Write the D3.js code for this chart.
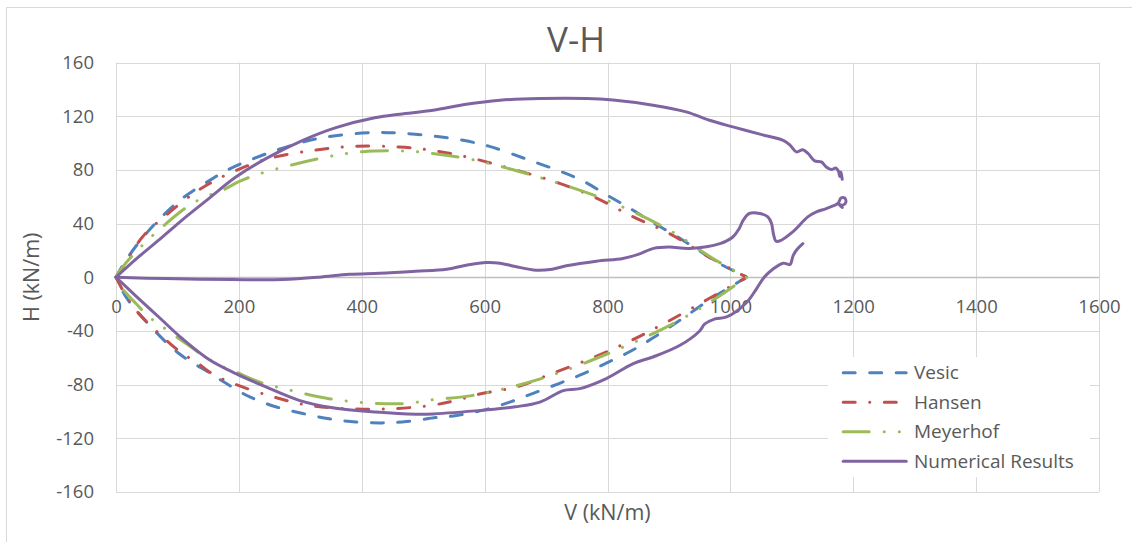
<!DOCTYPE html>
<html>
<head>
<meta charset="utf-8">
<script src="https://cdn.jsdelivr.net/npm/d3@7"></script>
<style>
  html, body { margin: 0; padding: 0; background: #ffffff; }
  svg text { font-family: "Open Sans", "Liberation Sans", sans-serif; fill: #595959; }
</style>
</head>
<body>
<svg id="chart" width="1132" height="542"></svg>
<script>
// ---- axis ticks ----
const xTicks = [0, 200, 400, 600, 800, 1000, 1200, 1400, 1600];
const yTicks = [-160, -120, -80, -40, 0, 40, 80, 120, 160];

// ---- Vesic envelope [V, H] ----
const vesicUpper = [[0,0],[16,12.5],[49,32.5],[103,57],[152,72],[184,80.5],[260,94.5],[336,104],[418,107.8],[457,107.5],[511,105.5],[565,102],[608,97.5],[668,88],[717,80],[759,72],[798,61.5],[836,51.5],[871,41.5],[909,31.5],[947,20.5],[983,10],[1018,2],[1026,0]];
const vesicLower = [[0,0],[16,-14.5],[52,-34.5],[103,-57],[155,-72],[179,-79],[217,-89],[260,-96.5],[304,-101.5],[347,-105.5],[390,-107.8],[434,-108.5],[473,-107.5],[522,-104.5],[554,-103],[598,-99],[641,-93],[679,-86.5],[722,-79],[760,-72],[798,-64],[836,-55.5],[873,-45.5],[918,-32],[972,-15],[1018,-2.3],[1026,0]];

// ---- Hansen envelope ----
const hansenUpper = [[0,0],[13.5,9],[43,30],[81,46],[125,62],[157,71],[190,78.5],[249,88.5],[320,94.5],[385,97.5],[461,97],[522,94],[581,88.5],[646,80.5],[722,70],[777,60],[842,45],[901,32.5],[958,17],[1018,2],[1026,0]];
const hansenLower = [[0,0],[11,-9.7],[32.5,-24.5],[76,-44.5],[108.5,-57],[130,-63],[157,-72],[190,-79],[255,-89],[314,-95.5],[380,-98],[450,-98],[519,-95],[554,-91.7],[592,-87],[652,-81.7],[711,-71.5],[779,-59.4],[839,-47],[896,-33.5],[961,-17],[1018,-2.2],[1026,0]];

// ---- Meyerhof envelope ----
const meyerhofUpper = [[0,0],[11,7.7],[49,26.5],[119,53.5],[146,60],[174,65],[199,71],[233,77],[342,89.5],[401,93.5],[470,94],[511,92.5],[581,87.5],[692,74],[798,57.5],[901,35],[975,13],[1018,2.1],[1026,0]];
const meyerhofLower = [[0,0],[8,-7.2],[32.5,-19.6],[54,-29.6],[76,-37],[114,-49.4],[141,-58],[168,-65.5],[195,-70.5],[233,-78],[282,-84],[347,-90.5],[423,-94],[472,-94],[520,-91],[581,-88],[692,-75.5],[800,-57],[907,-34.5],[972,-17],[1018,-2.6],[1026,0]];

// ---- Numerical results (three branches from the origin) ----
const numericalUpper = [[0,0],[32.5,13.5],[70.5,28],[108.5,43],[152,59],[195,74.7],[244,88.4],[304,102],[358,111.5],[423,119],[462,121.5],[516,124.4],[570,128.9],[625,131.9],[690,133.2],[766,133.2],[809,132],[874,128.2],[928,123.2],[966,117],[1004,112],[1048,106.6],[1086,102],[1097,98.4],[1107.5,93.4],[1118,95],[1126.5,92.2],[1137,86.7],[1148,85.9],[1156,82.2],[1164.5,80.2],[1171.5,81.4],[1176,79],[1178,75],[1180,78.5],[1182,73]];
const numericalMiddle = [[0,0],[81,-1],[190,-1.7],[271,-1.7],[330,0],[380,2.2],[429,3],[488,4.5],[538,6],[570,9],[603,11],[625,10.5],[650,8],[684,5.2],[710,6],[733,8.5],[782,12],[825,14],[850,17],[875,21.5],[900,22.5],[934,21.5],[983,25],[1004,30],[1014,36],[1021,42.5],[1031,47.5],[1048,47.5],[1061,45],[1067,40],[1070,32.5],[1074,27],[1080,27],[1102,34],[1126,45],[1140,48.7],[1156,51.2],[1175,55],[1180,59],[1186,59],[1188,56],[1183,53.7],[1177,54.4],[1182,52]];
const numericalLower = [[0,0],[32.5,-14],[70.5,-30],[108.5,-46],[152,-61.5],[195,-71.8],[244,-81.7],[298,-91.7],[352.5,-97.2],[423,-100.4],[488,-102],[516,-101.8],[598,-99],[650,-96.5],[690,-93],[728,-84.5],[755,-83],[798,-75.5],[842,-64.3],[874,-59.4],[918,-50.7],[950,-40],[958,-35],[975,-31],[994,-29.6],[1026,-19],[1042,-9],[1055,0],[1069,6],[1086,10.5],[1097,9.5],[1102,16],[1108,20.5],[1118,25]];

const seriesNames = ["Vesic", "Hansen", "Meyerhof", "Numerical Results"];
const seriesColors = ["#4F81BD", "#C0504D", "#9BBB59", "#8064A2"];
const seriesDashes = ["12 14.5", "12 14.5 0.1 14.5", "26 15 0.1 15 0.1 15", null];

// each theoretical envelope is drawn as one run: upper arc out, lower arc back
const seriesParts = [
  [vesicUpper.concat(vesicLower.slice(0, -1).reverse())],
  [hansenUpper.concat(hansenLower.slice(0, -1).reverse())],
  [meyerhofUpper.concat(meyerhofLower.slice(0, -1).reverse())],
  [numericalUpper, numericalMiddle, numericalLower]
];

// ---- layout ----
const svg = d3.select("#chart");
const plot = { left: 116, right: 1099, top: 62.5, bottom: 492 };

const x = d3.scaleLinear().domain([0, 1600]).range([plot.left, plot.right]);
const y = d3.scaleLinear().domain([-160, 160]).range([plot.bottom, plot.top]);

// chart frame
svg.append("path")
  .attr("d", "M6.5,542V7.5H1132")
  .attr("fill", "none")
  .attr("stroke", "#d9d9d9")
  .attr("stroke-width", 1);

// gridlines
const crisp = v => Math.round(v) + 0.5;
const grid = svg.append("g").attr("stroke", "#d9d9d9").attr("stroke-width", 1);
grid.selectAll("line.v").data(xTicks).join("line")
  .attr("class", "v")
  .attr("x1", d => crisp(x(d))).attr("x2", d => crisp(x(d)))
  .attr("y1", y(160)).attr("y2", y(-160));
grid.selectAll("line.h").data(yTicks).join("line")
  .attr("class", "h")
  .attr("x1", x(0)).attr("x2", x(1600))
  .attr("y1", d => crisp(y(d))).attr("y2", d => crisp(y(d)));

// horizontal axis line at H = 0
svg.append("line")
  .attr("x1", x(0)).attr("x2", x(1600))
  .attr("y1", crisp(y(0))).attr("y2", crisp(y(0)))
  .attr("stroke", "#bfbfbf").attr("stroke-width", 1.3);

// tick labels (plain hyphen for negatives)
const plain = d => String(d);
const xAxis = svg.append("g")
  .attr("transform", `translate(0,${y(0)})`)
  .call(d3.axisBottom(x).tickValues(xTicks).tickSize(0).tickPadding(23).tickFormat(plain));
const yAxis = svg.append("g")
  .attr("transform", `translate(${x(0)},0)`)
  .call(d3.axisLeft(y).tickValues(yTicks).tickSize(0).tickPadding(22).tickFormat(plain));
[xAxis, yAxis].forEach(g => {
  g.select(".domain").remove();
  g.selectAll("text").attr("font-size", 18.5).attr("fill", "#595959")
    .style("font-family", "\"Open Sans\", sans-serif");
});

// series lines
const line = d3.line()
  .x(d => x(d[0]))
  .y(d => y(d[1]))
  .curve(d3.curveCatmullRom.alpha(0.5));

const seriesLayer = svg.append("g");
seriesNames.forEach((name, i) => {
  seriesParts[i].forEach(part => {
    seriesLayer.append("path")
      .attr("d", line(part))
      .attr("fill", "none")
      .attr("stroke", seriesColors[i])
      .attr("stroke-width", 3)
      .attr("stroke-linecap", "round")
      .attr("stroke-linejoin", "round")
      .attr("stroke-dasharray", seriesDashes[i]);
  });
});

// title and axis titles
svg.append("text")
  .attr("x", 576).attr("y", 52)
  .attr("text-anchor", "middle")
  .attr("font-size", 35)
  .text("V-H");
svg.append("text")
  .attr("x", (plot.left + plot.right) / 2).attr("y", 520)
  .attr("text-anchor", "middle")
  .attr("font-size", 21.5)
  .text("V (kN/m)");
svg.append("text")
  .attr("transform", `translate(39,${(plot.top + plot.bottom) / 2}) rotate(-90)`)
  .attr("text-anchor", "middle")
  .attr("font-size", 21.5)
  .text("H (kN/m)");

// legend
const legend = svg.append("g");
legend.append("rect")
  .attr("x", 828).attr("y", 357).attr("width", 262).attr("height", 120)
  .attr("fill", "#ffffff");
const legendY = [372.7, 402.2, 431.7, 461.2];
seriesNames.forEach((name, i) => {
  legend.append("line")
    .attr("x1", 843.2).attr("x2", 906.2)
    .attr("y1", legendY[i]).attr("y2", legendY[i])
    .attr("stroke", seriesColors[i])
    .attr("stroke-width", 3)
    .attr("stroke-linecap", "round")
    .attr("stroke-dasharray", seriesDashes[i]);
  legend.append("text")
    .attr("x", 914).attr("y", legendY[i])
    .attr("dy", "0.35em")
    .attr("font-size", 19)
    .text(name);
});
</script>
</body>
</html>
